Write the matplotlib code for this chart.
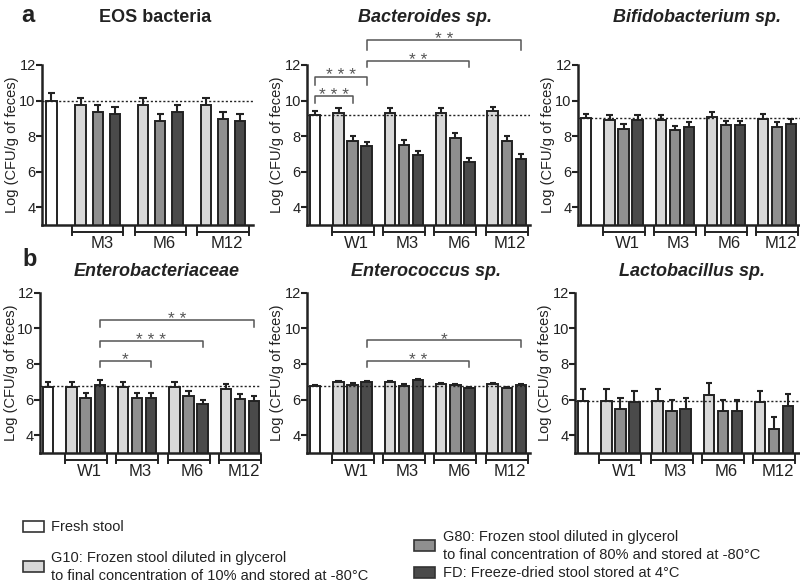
import matplotlib
matplotlib.use("Agg")
import matplotlib.pyplot as plt
import numpy as np
from matplotlib.transforms import blended_transform_factory
from matplotlib.patches import Rectangle

plt.rcParams['font.family'] = ['Liberation Sans', 'DejaVu Sans']

# ---------------- data ----------------
groups4 = ['W1', 'M3', 'M6', 'M12']
groups_eos = ['M3', 'M6', 'M12']
yticks = [4, 6, 8, 10, 12]

eos_fresh, eos_fresh_err = 10.0, 0.4
eos_g10 = [9.75, 9.75, 9.75]; eos_g10_err = [0.4, 0.4, 0.4]
eos_g80 = [9.33, 8.86, 8.96]; eos_g80_err = [0.4, 0.38, 0.38]
eos_fd = [9.24, 9.33, 8.86]; eos_fd_err = [0.4, 0.4, 0.38]
eos_ref = 10.0

bac_fresh, bac_fresh_err = 9.19, 0.25
bac_g10 = [9.28, 9.28, 9.28, 9.4]; bac_g10_err = [0.28, 0.28, 0.28, 0.25]
bac_g80 = [7.72, 7.52, 7.9, 7.72]; bac_g80_err = [0.28, 0.28, 0.28, 0.28]
bac_fd = [7.42, 6.92, 6.53, 6.72]; bac_fd_err = [0.26, 0.26, 0.26, 0.26]
bac_ref = 9.2

bif_fresh, bif_fresh_err = 9.02, 0.25
bif_g10 = [8.89, 8.89, 9.08, 8.99]; bif_g10_err = [0.27, 0.27, 0.27, 0.27]
bif_g80 = [8.41, 8.32, 8.6, 8.5]; bif_g80_err = [0.27, 0.27, 0.27, 0.27]
bif_fd = [8.89, 8.5, 8.6, 8.69]; bif_fd_err = [0.27, 0.27, 0.27, 0.3]
bif_ref = 9.0

ent_fresh, ent_fresh_err = 6.71, 0.26
ent_g10 = [6.71, 6.71, 6.71, 6.61]; ent_g10_err = [0.26, 0.26, 0.26, 0.26]
ent_g80 = [6.11, 6.11, 6.22, 6.02]; ent_g80_err = [0.28, 0.28, 0.28, 0.28]
ent_fd = [6.82, 6.11, 5.72, 5.93]; ent_fd_err = [0.26, 0.26, 0.26, 0.26]
ent_ref = 6.75

enc_fresh, enc_fresh_err = 6.78, 0.06
enc_g10 = [6.97, 6.97, 6.88, 6.88]; enc_g10_err = [0.07, 0.07, 0.07, 0.07]
enc_g80 = [6.84, 6.78, 6.8, 6.65]; enc_g80_err = [0.07, 0.07, 0.07, 0.07]
enc_fd = [6.97, 7.08, 6.65, 6.8]; enc_fd_err = [0.07, 0.07, 0.07, 0.07]
enc_ref = 6.78

lac_fresh, lac_fresh_err = 5.94, 0.65
lac_g10 = [5.94, 5.94, 6.26, 5.85]; lac_g10_err = [0.65, 0.65, 0.65, 0.65]
lac_g80 = [5.44, 5.35, 5.35, 4.36]; lac_g80_err = [0.65, 0.65, 0.65, 0.65]
lac_fd = [5.85, 5.44, 5.35, 5.63]; lac_fd_err = [0.65, 0.65, 0.65, 0.7]
lac_ref = 5.9

# significance: (start bar, end bar, line y, tick bottom y, label); bar = 'F' or (group index, series index)
bac_sig = [('F', (0, 1), 10.23, 9.86, '* * *'),
           ('F', (0, 2), 11.35, 10.9, '* * *'),
           ((0, 2), (2, 2), 12.24, 11.87, '* *'),
           ((0, 2), (3, 2), 13.4, 12.84, '* *')]
ent_sig = [((0, 2), (1, 2), 8.18, 7.84, '*'),
           ((0, 2), (2, 2), 9.3, 8.94, '* * *'),
           ((0, 2), (3, 2), 10.43, 10.06, '* *')]
enc_sig = [((0, 2), (2, 2), 8.16, 7.84, '* *'),
           ((0, 2), (3, 2), 9.33, 8.96, '*')]

colors = ['#ffffff', '#d8d8d8', '#8f8f8f', '#4a4a4a']
edge = '#222222'
series_labels = ['Fresh stool',
                 'G10: Frozen stool diluted in glycerol\nto final concentration of 10% and stored at -80°C',
                 'G80: Frozen stool diluted in glycerol\nto final concentration of 80% and stored at -80°C',
                 'FD: Freeze-dried stool stored at 4°C']

W, H = 800, 583
fig = plt.figure(figsize=(8.0, 5.83), dpi=100)

START, PITCH = 1.7, 3.66


def axes_px(x0, x1, ytop, ybot):
    ax = fig.add_axes([x0 / W, 1 - ybot / H, (x1 - x0) / W, (ybot - ytop) / H])
    ax._wpx = x1 - x0
    return ax


def panel(ax, groups, fresh, fresh_err, series, errs, ref, sig, xr, bw, lab_off=23):
    def xpos(key):
        if key == 'F':
            return 0.0
        g, s = key
        return START + g * PITCH + s
    ax.bar([0], [fresh], width=bw, color=colors[0], edgecolor=edge, linewidth=1.4, zorder=2)
    ax.vlines([0], [fresh], [fresh + fresh_err], color=edge, lw=1.5, zorder=3)
    ax.hlines([fresh + fresh_err], [-0.22], [0.22], color=edge, lw=1.5, zorder=3)
    for s, (vals, er) in enumerate(zip(series, errs)):
        xs = np.array([START + g * PITCH + s for g in range(len(groups))])
        vals = np.array(vals); er = np.array(er)
        ax.bar(xs, vals, width=bw, color=colors[s + 1], edgecolor=edge, linewidth=1.4, zorder=2)
        ax.vlines(xs, vals, vals + er, color=edge, lw=1.5, zorder=3)
        ax.hlines(vals + er, xs - 0.22, xs + 0.22, color=edge, lw=1.5, zorder=3)
    ax.axhline(ref, color='#222222', lw=1.0, ls=(0, (1.5, 1.5)), zorder=4)
    ax.set_xlim(-0.55, xr)
    ax.set_ylim(3, 12)
    ax.set_yticks(yticks)
    ax.set_xticks([])
    for sp in ['top', 'right']:
        ax.spines[sp].set_visible(False)
    for sp in ['left', 'bottom']:
        ax.spines[sp].set_linewidth(1.8)
        ax.spines[sp].set_color('#222222')
    ax.tick_params(axis='y', direction='out', length=4, width=1.5, labelsize=10.5, pad=0.5, colors='#222222')
    ax.set_ylabel('Log (CFU/g of feces)', fontsize=10.5, color='#222222')
    ax.yaxis.set_label_coords(-lab_off / ax._wpx, 0.5)
    tr = blended_transform_factory(ax.transData, ax.transAxes)
    for g, name in enumerate(groups):
        a = START + g * PITCH - 0.5
        b = START + g * PITCH + 2.5
        ax.plot([a, b], [-0.045, -0.045], color='#222222', lw=1.4, transform=tr, clip_on=False)
        ax.plot([a, a], [-0.012, -0.065], color='#222222', lw=1.4, transform=tr, clip_on=False)
        ax.plot([b, b], [-0.012, -0.065], color='#222222', lw=1.4, transform=tr, clip_on=False)
        ax.text(START + g * PITCH + 1.25, -0.115, name, transform=tr, ha='center', va='center',
                fontsize=12, color='#222222')
    for (k0, k1, yl, yb, lab) in sig:
        x0, x1 = xpos(k0), xpos(k1)
        ax.plot([x0, x0, x1, x1], [yb, yl, yl, yb], color='#555555', lw=1.1, clip_on=False)
        ax.annotate(lab, xy=((x0 + x1) / 2, yl), xytext=(0, -5), textcoords='offset points',
                    ha='center', va='bottom', fontsize=12.5, color='#555555', annotation_clip=False)


# top row
ax1 = axes_px(42, 253, 65, 225)
panel(ax1, groups_eos, eos_fresh, eos_fresh_err, [eos_g10, eos_g80, eos_fd],
      [eos_g10_err, eos_g80_err, eos_fd_err], eos_ref, [], 11.77, 0.6)
ax2 = axes_px(307, 530, 65, 225)
panel(ax2, groups4, bac_fresh, bac_fresh_err, [bac_g10, bac_g80, bac_fd],
      [bac_g10_err, bac_g80_err, bac_fd_err], bac_ref, bac_sig, 15.34, 0.74)
ax3 = axes_px(578, 800, 65, 225)
panel(ax3, groups4, bif_fresh, bif_fresh_err, [bif_g10, bif_g80, bif_fd],
      [bif_g10_err, bif_g80_err, bif_fd_err], bif_ref, [], 15.3, 0.74)

# bottom row
ax4 = axes_px(40, 260, 292.5, 453)
panel(ax4, groups4, ent_fresh, ent_fresh_err, [ent_g10, ent_g80, ent_fd],
      [ent_g10_err, ent_g80_err, ent_fd_err], ent_ref, ent_sig, 15.1, 0.74, 22)
ax5 = axes_px(307, 530, 292.5, 453)
panel(ax5, groups4, enc_fresh, enc_fresh_err, [enc_g10, enc_g80, enc_fd],
      [enc_g10_err, enc_g80_err, enc_fd_err], enc_ref, enc_sig, 15.34, 0.74)
ax6 = axes_px(575, 800, 292.5, 453)
panel(ax6, groups4, lac_fresh, lac_fresh_err, [lac_g10, lac_g80, lac_fd],
      [lac_g10_err, lac_g80_err, lac_fd_err], lac_ref, [], 15.54, 0.74)

# titles
def ftext(x, y, s, **kw):
    fig.text(x / W, 1 - y / H, s, **kw)

ftext(155, 17, 'EOS bacteria', ha='center', va='center', fontsize=13, fontweight='bold', color='#222222')
ftext(425, 17, 'Bacteroides sp.', ha='center', va='center', fontsize=13, fontweight='bold', style='italic', color='#222222')
ftext(697, 17, 'Bifidobacterium sp.', ha='center', va='center', fontsize=13, fontweight='bold', style='italic', color='#222222')
ftext(157, 271, 'Enterobacteriaceae', ha='center', va='center', fontsize=13, fontweight='bold', style='italic', color='#222222')
ftext(426, 271, 'Enterococcus sp.', ha='center', va='center', fontsize=13, fontweight='bold', style='italic', color='#222222')
ftext(692, 271, 'Lactobacillus sp.', ha='center', va='center', fontsize=13, fontweight='bold', style='italic', color='#222222')
ftext(28, 16, 'a', ha='center', va='center', fontsize=17, fontweight='bold', color='#222222')
ftext(30, 259, 'b', ha='center', va='center', fontsize=17, fontweight='bold', color='#222222')

# legend
leg_boxes = [(23, 526), (23, 566), (414, 545), (414, 572)]
leg_text = [(51, 527), (51, 567), (443, 546), (443, 573)]
for i in range(4):
    bx, by = leg_boxes[i]
    fig.patches.append(Rectangle((bx / W, 1 - (by + 5.5) / H), 21 / W, 11 / H, transform=fig.transFigure,
                                 facecolor=colors[i], edgecolor='#333333', lw=1.2))
    tx, ty = leg_text[i]
    ftext(tx, ty, series_labels[i], ha='left', va='center', fontsize=10.5, color='#222222', linespacing=1.4)

fig.savefig('out.png', dpi=100)
